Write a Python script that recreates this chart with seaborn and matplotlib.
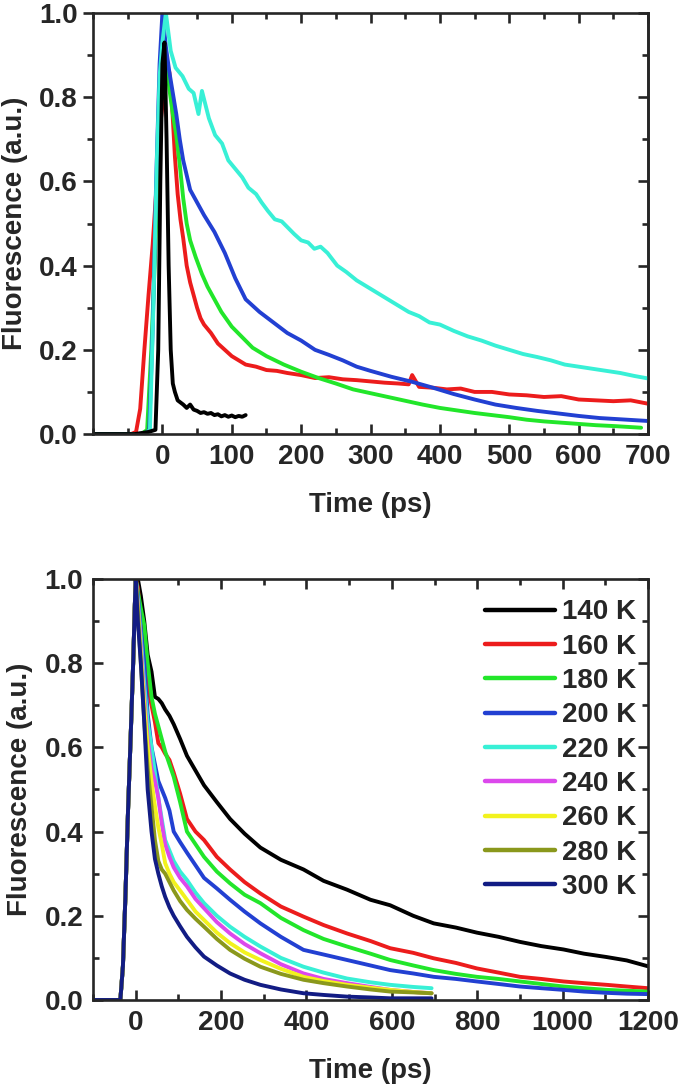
import matplotlib
matplotlib.use('Agg')
import matplotlib.pyplot as plt
from matplotlib.ticker import MultipleLocator, FormatStrFormatter
import pandas as pd
import seaborn as sns

# ---- top panel: traces (time in ps, normalised signal) ----
black_t = [-100, -40, -20, -10, -6, -3, 0, 3, 6, 9, 12, 15, 18, 22, 26, 30, 35, 40, 45, 50,
           55, 60, 65, 70, 75, 80, 85, 90, 95, 100, 105, 110, 115, 120]
black_y = [0.0, 0.0, 0.005, 0.01, 0.2, 0.6, 0.88, 0.93, 0.7, 0.4, 0.2, 0.12, 0.1, 0.08, 0.075, 0.07,
           0.062, 0.07, 0.058, 0.055, 0.05, 0.052, 0.048, 0.05, 0.045, 0.047, 0.042, 0.045, 0.041,
           0.044, 0.04, 0.043, 0.041, 0.045]

red_t = [-100, -45, -38, -32, -26, -20, -14, -8, -2, 4, 10, 14, 18, 22, 26, 30, 35, 40, 45, 50,
         55, 60, 70, 80, 90, 100, 110, 120, 135, 150, 165, 180, 200, 220, 240, 260, 280, 300, 320,
         340, 355, 360, 370, 390, 410, 430, 450, 475, 500, 525, 550, 575, 600, 625, 650, 675, 700]
red_y = [0, 0, 0.005, 0.06, 0.2, 0.33, 0.45, 0.6, 0.75, 0.84, 0.86, 0.78, 0.66, 0.57, 0.51, 0.465,
         0.4, 0.36, 0.33, 0.3, 0.275, 0.26, 0.24, 0.215, 0.2, 0.185, 0.175, 0.165, 0.16, 0.152, 0.15,
         0.145, 0.14, 0.133, 0.135, 0.13, 0.128, 0.125, 0.122, 0.12, 0.118, 0.14, 0.112, 0.11, 0.106,
         0.108, 0.1, 0.1, 0.094, 0.092, 0.088, 0.09, 0.082, 0.08, 0.078, 0.08, 0.072]

green_t = [-100, -30, -22, -16, -10, -5, 0, 4, 10, 15, 20, 25, 30, 35, 40, 48, 57, 65, 75, 85, 100,
           115, 130, 150, 175, 200, 225, 250, 275, 300, 325, 350, 375, 400, 425, 450, 475, 500,
           525, 550, 575, 600, 625, 650, 670, 690]
green_y = [0, 0, 0.01, 0.2, 0.45, 0.7, 0.88, 0.92, 0.82, 0.76, 0.71, 0.64, 0.56, 0.5, 0.46, 0.42,
           0.38, 0.35, 0.32, 0.29, 0.255, 0.23, 0.205, 0.185, 0.165, 0.148, 0.133, 0.12, 0.106,
           0.097, 0.088, 0.079, 0.07, 0.062, 0.056, 0.05, 0.045, 0.04, 0.034, 0.03, 0.027, 0.024,
           0.021, 0.019, 0.017, 0.015]

blue_t = [-100, -25, -19, -14, -9, -4, 0, 5, 10, 15, 20, 25, 30, 40, 50, 60, 75, 90, 105, 120, 140,
          160, 180, 200, 220, 240, 260, 280, 300, 330, 360, 390, 420, 450, 480, 510, 540, 570, 600,
          630, 660, 700]
blue_y = [0, 0, 0.01, 0.25, 0.6, 0.88, 1.0, 0.92, 0.86, 0.81, 0.76, 0.7, 0.65, 0.58, 0.55, 0.52,
          0.48, 0.43, 0.37, 0.32, 0.29, 0.265, 0.24, 0.222, 0.2, 0.188, 0.175, 0.16, 0.15, 0.136,
          0.124, 0.11, 0.095, 0.082, 0.07, 0.062, 0.055, 0.049, 0.043, 0.038, 0.035, 0.031]

cyan_t = [-100, -25, -18, -13, -8, -4, 0, 5, 12, 19, 29, 38, 45, 52, 57, 67, 76, 86, 95, 105, 115,
          124, 135, 143, 152, 162, 172, 181, 190, 200, 210, 219, 228, 238, 252, 265, 280, 295, 310,
          325, 340, 355, 370, 385, 400, 420, 440, 460, 480, 500, 520, 540, 560, 580, 600, 620, 640,
          660, 680, 700]
cyan_y = [0, 0, 0.01, 0.3, 0.65, 0.85, 0.93, 1.0, 0.91, 0.87, 0.85, 0.82, 0.81, 0.76, 0.815, 0.75,
          0.71, 0.69, 0.65, 0.63, 0.61, 0.585, 0.57, 0.55, 0.53, 0.51, 0.505, 0.49, 0.475, 0.46,
          0.455, 0.44, 0.445, 0.43, 0.40, 0.385, 0.365, 0.35, 0.335, 0.32, 0.305, 0.29, 0.28, 0.265,
          0.26, 0.245, 0.232, 0.222, 0.21, 0.2, 0.19, 0.183, 0.175, 0.165, 0.16, 0.155, 0.15, 0.145,
          0.138, 0.132]

# ---- bottom panel: temperature series ----
temps = ['140 K', '160 K', '180 K', '200 K', '220 K', '240 K', '260 K', '280 K', '300 K']

rise_t = [-100, -36, -30, -24, -18, -12, -6, -2, 0]
rise_y = [0, 0, 0.08, 0.25, 0.45, 0.62, 0.8, 0.94, 1.0]

long_t = [5, 12, 20, 28, 37, 45, 53, 61, 69, 79, 89, 104, 120, 140, 160, 190, 221, 255, 292, 340,
          393, 440, 495, 550, 596, 650, 698, 750, 799, 850, 900, 950, 1002, 1050, 1103, 1150, 1200]
short_t = long_t[:26] + [693]

k140 = [1.0, 0.96, 0.9, 0.82, 0.78, 0.72, 0.715, 0.705, 0.69, 0.675, 0.655, 0.62, 0.58, 0.545,
        0.51, 0.47, 0.43, 0.395, 0.362, 0.333, 0.31, 0.283, 0.262, 0.238, 0.225, 0.2, 0.182, 0.172,
        0.16, 0.15, 0.138, 0.128, 0.12, 0.11, 0.102, 0.094, 0.08]
k160 = [0.98, 0.9, 0.82, 0.75, 0.7, 0.66, 0.61, 0.6, 0.585, 0.57, 0.54, 0.49, 0.43, 0.4, 0.38,
        0.34, 0.31, 0.28, 0.253, 0.222, 0.198, 0.178, 0.158, 0.14, 0.123, 0.112, 0.099, 0.088,
        0.075, 0.065, 0.055, 0.05, 0.044, 0.04, 0.036, 0.032, 0.028]
k180 = [0.97, 0.93, 0.89, 0.8, 0.72, 0.68, 0.65, 0.62, 0.59, 0.56, 0.53, 0.47, 0.4, 0.37, 0.34,
        0.305, 0.277, 0.25, 0.23, 0.195, 0.166, 0.145, 0.127, 0.11, 0.095, 0.082, 0.071, 0.062,
        0.055, 0.05, 0.044, 0.038, 0.032, 0.028, 0.024, 0.022, 0.02]
k200 = [0.96, 0.88, 0.8, 0.68, 0.6, 0.56, 0.52, 0.5, 0.48, 0.45, 0.4, 0.375, 0.35, 0.32, 0.29,
        0.265, 0.238, 0.21, 0.182, 0.15, 0.119, 0.108, 0.095, 0.082, 0.071, 0.063, 0.055, 0.05,
        0.044, 0.038, 0.032, 0.028, 0.024, 0.02, 0.017, 0.015, 0.014]
k220 = [0.95, 0.86, 0.75, 0.66, 0.6, 0.54, 0.48, 0.43, 0.38, 0.355, 0.33, 0.305, 0.285, 0.255,
        0.23, 0.2, 0.174, 0.15, 0.127, 0.1, 0.079, 0.065, 0.051, 0.042, 0.036, 0.031, 0.028]
k240 = [0.94, 0.84, 0.72, 0.62, 0.55, 0.52, 0.48, 0.42, 0.37, 0.34, 0.315, 0.29, 0.27, 0.24,
        0.218, 0.185, 0.158, 0.133, 0.111, 0.085, 0.063, 0.05, 0.04, 0.031, 0.024, 0.019, 0.016]
k260 = [0.93, 0.82, 0.7, 0.6, 0.52, 0.46, 0.41, 0.37, 0.325, 0.3, 0.28, 0.26, 0.238, 0.21, 0.19,
        0.16, 0.135, 0.113, 0.095, 0.074, 0.055, 0.045, 0.036, 0.029, 0.024, 0.019, 0.016]
k280 = [0.92, 0.8, 0.66, 0.55, 0.46, 0.38, 0.33, 0.31, 0.3, 0.28, 0.26, 0.235, 0.214, 0.193,
        0.174, 0.145, 0.119, 0.098, 0.079, 0.062, 0.048, 0.04, 0.032, 0.025, 0.02, 0.018, 0.016]
k300 = [0.9, 0.8, 0.66, 0.5, 0.4, 0.335, 0.3, 0.27, 0.245, 0.22, 0.2, 0.175, 0.15, 0.125, 0.103,
        0.082, 0.063, 0.048, 0.036, 0.025, 0.016, 0.012, 0.008, 0.006, 0.004, 0.004, 0.004]

colors = ['#000000', '#ec1c1c', '#22e62a', '#2240d2', '#38f0d6', '#dc48ec', '#f2f21e',
          '#8a981c', '#121c84']

# ---- build long tables ----
top_traces = {'red': (red_t, red_y), 'green': (green_t, green_y), 'blue': (blue_t, blue_y),
              'cyan': (cyan_t, cyan_y), 'black': (black_t, black_y)}
top_colors = {'red': colors[1], 'green': colors[2], 'blue': colors[3], 'cyan': colors[4],
              'black': colors[0]}
rows = []
for name, (t, y) in top_traces.items():
    for a, b in zip(t, y):
        rows.append((name, a, b))
top_df = pd.DataFrame(rows, columns=['trace', 'time', 'signal'])

decays = [(long_t, k140), (long_t, k160), (long_t, k180), (long_t, k200), (short_t, k220),
          (short_t, k240), (short_t, k260), (short_t, k280), (short_t, k300)]
rows = []
for temp, (t, y) in zip(temps, decays):
    for a, b in zip(rise_t + t, rise_y + y):
        rows.append((temp, a, b))
bot_df = pd.DataFrame(rows, columns=['temp', 'time', 'signal'])

# ---- style ----
sns.set_style('ticks')
plt.rcParams['font.family'] = ['Liberation Sans', 'DejaVu Sans']
plt.rcParams['font.weight'] = 'bold'
plt.rcParams['axes.labelweight'] = 'bold'
FS = 20

fig = plt.figure(figsize=(6.79, 10.84), dpi=100)
ax1 = fig.add_axes([0.137, 0.5996, 0.8174, 0.3884])
ax2 = fig.add_axes([0.137, 0.0775, 0.8174, 0.3884])

sns.lineplot(data=top_df, x='time', y='signal', hue='trace', palette=top_colors,
             hue_order=['red', 'green', 'blue', 'cyan', 'black'], estimator=None, sort=False,
             linewidth=2.8, legend=False, ax=ax1)
sns.lineplot(data=bot_df, x='time', y='signal', hue='temp', palette=dict(zip(temps, colors)),
             hue_order=temps, estimator=None, sort=False, linewidth=2.8, ax=ax2)

for ax, xmax, step in [(ax1, 700, 100), (ax2, 1200, 200)]:
    ax.set_xlim(-100, xmax)
    ax.set_ylim(0, 1.0)
    ax.set_xticks(range(0, xmax + 1, step))
    ax.xaxis.set_minor_locator(MultipleLocator(step / 2))
    ax.yaxis.set_major_locator(MultipleLocator(0.2))
    ax.yaxis.set_minor_locator(MultipleLocator(0.1))
    ax.yaxis.set_major_formatter(FormatStrFormatter('%.1f'))
    ax.set_xlabel('Time (ps)', fontsize=FS, fontweight='bold', labelpad=16)
    ax.set_ylabel('Fluorescence (a.u.)', fontsize=FS, fontweight='bold', labelpad=8)
    for s in ax.spines.values():
        s.set_linewidth(1.9)
        s.set_visible(True)
    ax.tick_params(which='both', direction='in', top=True, right=True, width=1.9,
                   labelsize=FS, pad=7)
    ax.tick_params(which='major', length=7)
    ax.tick_params(which='minor', length=4)
    for lab in ax.get_xticklabels() + ax.get_yticklabels():
        lab.set_fontweight('bold')

# top panel: outward ticks on the left axis only, inward on the right
ax1.tick_params(axis='y', which='both', direction='out', right=False, pad=4)
sec = ax1.secondary_yaxis('right')
sec.yaxis.set_major_locator(MultipleLocator(0.2))
sec.yaxis.set_minor_locator(MultipleLocator(0.1))
sec.tick_params(which='both', direction='in', labelright=False, width=1.9)
sec.tick_params(which='major', length=7)
sec.tick_params(which='minor', length=4)
sec.spines['right'].set_linewidth(1.9)

handles, labels = ax2.get_legend_handles_labels()
leg = ax2.legend(handles, labels, loc='upper right', frameon=False, fontsize=FS,
                 handlelength=2.5, handletextpad=0.25, labelspacing=0.3,
                 borderaxespad=0.0, bbox_to_anchor=(0.998, 0.978))
for h in leg.get_lines():
    h.set_linewidth(3.2)
for t in leg.get_texts():
    t.set_fontweight('bold')

fig.savefig('out.png', dpi=100)
